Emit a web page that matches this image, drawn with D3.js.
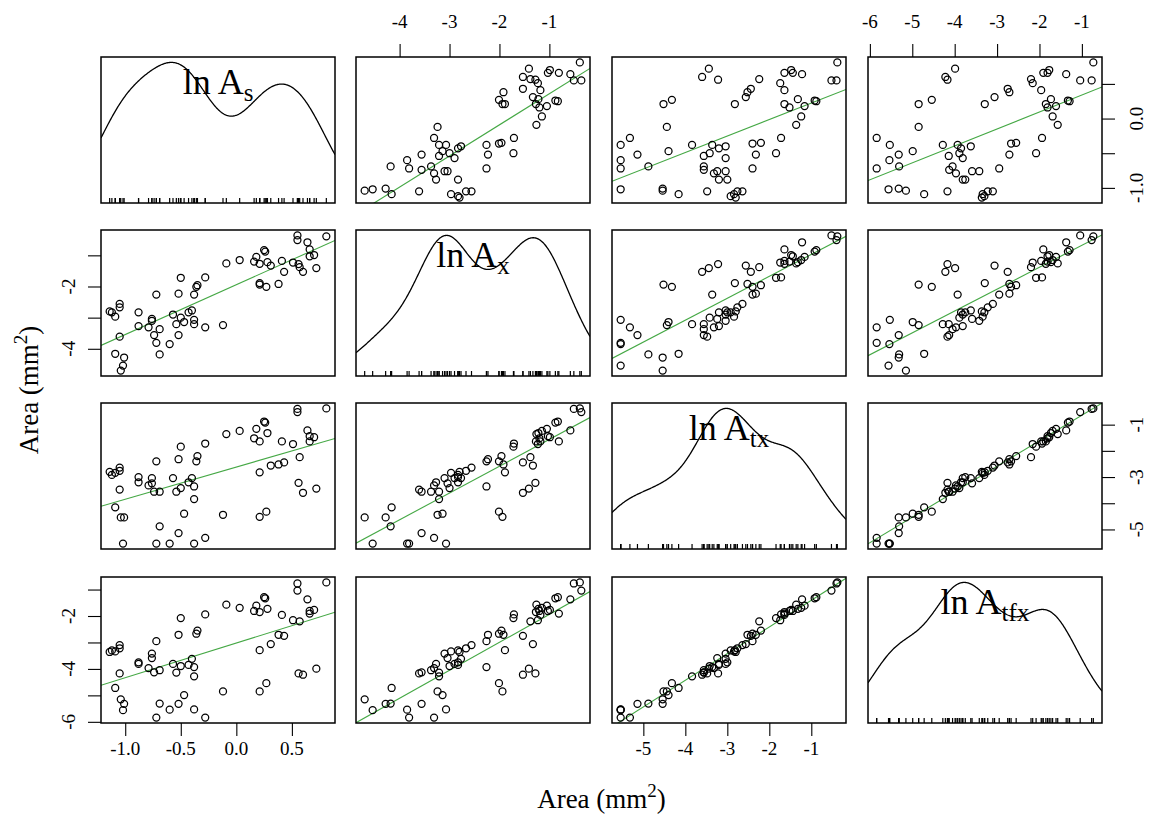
<!DOCTYPE html>
<html>
<head>
<meta charset="utf-8">
<script src="https://cdn.jsdelivr.net/npm/d3@7"></script>
<style>
  body { margin: 0; background: #fff; }
  svg { display: block; }
  text { font-family: "Liberation Serif", "Times New Roman", serif; fill: #000; }
</style>
</head>
<body>
<svg id="chart" width="1151" height="831"></svg>
<script>
// Log areas (ln of mm^2) for the four area measures, one entry per specimen.
const lnAs = [0.81, 0.72, 0.70, 0.66, 0.66, 0.64, 0.60, 0.57, 0.56, 0.55, 0.55, 0.51, 0.43, 0.41, 0.38,
  0.31, 0.28, 0.27, 0.26, 0.25, 0.21, 0.21, 0.21, 0.18, 0.16, 0.03, -0.09, -0.12, -0.28, -0.28,
  -0.38, -0.38, -0.38, -0.36, -0.35, -0.43, -0.40, -0.47, -0.50, -0.52, -0.52, -0.54, -0.50, -0.57, -0.60,
  -0.69, -0.72, -0.72, -0.69, -0.74, -0.76, -0.79, -0.76, -0.88, -0.88, -1.02, -1.01, -1.04, -1.09, -1.05,
  -1.05, -1.05, -1.09, -1.14, -1.12];
const lnAx = [-0.39, -1.41, -0.99, -0.81, -1.03, -0.58, -1.53, -1.38, -1.28, -0.36, -0.51, -1.23, -1.53, -1.18, -1.92,
  -1.33, -1.22, -2.01, -0.88, -0.83, -1.94, -1.89, -1.27, -1.05, -1.20, -1.15, -1.26, -3.24, -3.31, -1.71,
  -3.07, -3.21, -2.26, -2.01, -1.96, -2.83, -2.77, -3.14, -1.72, -2.23, -3.56, -3.21, -3.00, -2.90, -3.85,
  -4.18, -2.26, -3.81, -3.37, -3.56, -3.10, -3.31, -3.04, -3.27, -2.83, -4.54, -4.28, -4.70, -4.16, -3.61,
  -2.67, -2.56, -2.97, -2.80, -2.83];
const lnAtx = [-0.38, -3.44, -1.48, -1.64, -1.44, -1.22, -3.60, -2.24, -3.22, -0.52, -0.40, -1.74, -2.44, -1.64, -2.52,
  -2.56, -1.32, -4.32, -0.92, -0.88, -4.52, -2.82, -1.64, -1.16, -1.52, -1.24, -1.36, -4.44, -5.32, -1.72,
  -5.54, -3.84, -3.36, -2.40, -2.20, -3.20, -3.04, -4.40, -1.84, -2.32, -5.14, -3.56, -3.42, -3.04, -5.54,
  -4.88, -2.40, -5.54, -3.56, -3.56, -3.04, -3.32, -3.24, -3.20, -3.00, -5.54, -4.54, -4.54, -4.16, -3.48,
  -2.76, -2.64, -2.84, -2.80, -2.92];
const lnAtfx = [-0.73, -3.99, -1.77, -1.91, -1.81, -1.37, -4.22, -2.20, -4.17, -1.04, -0.77, -2.16, -2.75, -1.96, -2.71,
  -3.06, -1.73, -4.54, -1.33, -1.29, -4.85, -3.29, -1.85, -1.61, -1.81, -1.69, -1.57, -4.85, -5.84, -1.94,
  -5.53, -4.28, -3.93, -2.67, -2.55, -3.85, -3.62, -4.99, -2.08, -2.71, -5.32, -4.14, -3.89, -3.81, -5.54,
  -5.31, -2.95, -5.84, -4.05, -4.13, -3.42, -3.97, -3.59, -3.81, -3.75, -5.56, -5.32, -5.15, -4.72, -4.17,
  -3.22, -3.10, -3.34, -3.36, -3.30];

// Subscripts of the diagonal labels ("ln A" + subscript)
const labelSubs = ["s", "x", "tx", "tfx"];

// Tick values and their printed labels, per variable
const ticksAs = [-1, -0.5, 0, 0.5];
const tickLabelsAs = ["-1.0", "-0.5", "0.0", "0.5"];
const ticksAx = [-4, -3, -2, -1];
const tickLabelsAx = ["-4", "-3", "-2", "-1"];
const ticksAtx = [-5, -4, -3, -2, -1];
const tickLabelsAtx = ["-5", "-4", "-3", "-2", "-1"];
const ticksAtfx = [-6, -5, -4, -3, -2, -1];
const tickLabelsAtfx = ["-6", "-5", "-4", "-3", "-2", "-1"];

const axisTitle = "Area (mm";
const axisTitleSup = "2";

// ---- layout ----
const colX = [101, 356, 612, 868];
const rowY = [57, 230, 403, 577];
const W = 234, H = 146;
const TICK = 13;

const vars = [lnAs, lnAx, lnAtx, lnAtfx];
const tickVals = [ticksAs, ticksAx, ticksAtx, ticksAtfx];
const tickLabs = [tickLabelsAs, tickLabelsAx, tickLabelsAtx, tickLabelsAtfx];

// Axis range = data range widened by 4% on each side
function paddedDomain(v) {
  const [a, b] = d3.extent(v);
  const p = (b - a) * 0.04;
  return [a - p, b + p];
}
const xScales = vars.map((v, j) => d3.scaleLinear().domain(paddedDomain(v)).range([colX[j], colX[j] + W]));
const yScales = vars.map((v, i) => d3.scaleLinear().domain(paddedDomain(v)).range([rowY[i] + H, rowY[i]]));

const svg = d3.select("#chart");
const defs = svg.append("defs");

// Gaussian kernel density with the nrd0 bandwidth rule
function bwNrd0(v) {
  const s = d3.deviation(v);
  const sorted = v.slice().sort(d3.ascending);
  const iqr = d3.quantileSorted(sorted, 0.75) - d3.quantileSorted(sorted, 0.25);
  const lo = Math.min(s, iqr / 1.34);
  return 0.9 * lo * Math.pow(v.length, -0.2);
}
function kde(v, grid) {
  const h = bwNrd0(v);
  const n = v.length;
  const c = 1 / (n * h * Math.sqrt(2 * Math.PI));
  return grid.map(x => [x, c * d3.sum(v, xi => Math.exp(-0.5 * ((x - xi) / h) ** 2))]);
}

// Least-squares fit y = a + b x
function lsFit(x, y) {
  const mx = d3.mean(x), my = d3.mean(y);
  let sxy = 0, sxx = 0;
  for (let k = 0; k < x.length; k++) {
    sxy += (x[k] - mx) * (y[k] - my);
    sxx += (x[k] - mx) ** 2;
  }
  const b = sxy / sxx;
  return { a: my - b * mx, b };
}

for (let i = 0; i < 4; i++) {
  for (let j = 0; j < 4; j++) {
    const id = `clip-${i}-${j}`;
    defs.append("clipPath").attr("id", id)
      .append("rect").attr("x", colX[j]).attr("y", rowY[i]).attr("width", W).attr("height", H);

    const g = svg.append("g");
    const inner = g.append("g").attr("clip-path", `url(#${id})`);
    const xs = xScales[j];

    if (i === j) {
      // density curve
      const [d0, d1] = xs.domain();
      const grid = d3.range(0, 401).map(k => d0 + (d1 - d0) * k / 400);
      const dens = kde(vars[j], grid);
      const m = d3.max(dens, d => d[1]);
      const yd = d3.scaleLinear().domain([-0.04 * m, 1.04 * m]).range([rowY[i] + H, rowY[i]]);
      inner.append("path")
        .attr("d", d3.line().x(d => xs(d[0])).y(d => yd(d[1]))(dens))
        .attr("fill", "none").attr("stroke", "#000").attr("stroke-width", 1.3);
      // rug
      inner.selectAll("line.rug").data(vars[j]).join("line")
        .attr("x1", d => xs(d)).attr("x2", d => xs(d))
        .attr("y1", rowY[i] + H).attr("y2", rowY[i] + H - 5)
        .attr("stroke", "#000").attr("stroke-width", 1.2);
      // label
      const t = g.append("text")
        .attr("x", colX[j] + W / 2).attr("y", rowY[i] + 37)
        .attr("text-anchor", "middle").style("font-size", "36px");
      t.append("tspan").text("ln A");
      t.append("tspan").attr("dy", 7).style("font-size", "25px").text(labelSubs[j]);
    } else {
      const ys = yScales[i];
      const xv = vars[j], yv = vars[i];
      const pts = xv.map((x, k) => [x, yv[k]]);
      const fit = lsFit(xv, yv);
      const [d0, d1] = xs.domain();
      inner.append("line")
        .attr("x1", xs(d0)).attr("y1", ys(fit.a + fit.b * d0))
        .attr("x2", xs(d1)).attr("y2", ys(fit.a + fit.b * d1))
        .attr("stroke", "#45a845").attr("stroke-width", 1.1);
      inner.selectAll("circle").data(pts).join("circle")
        .attr("cx", d => xs(d[0])).attr("cy", d => ys(d[1])).attr("r", 3.5)
        .attr("fill", "none").attr("stroke", "#000").attr("stroke-width", 1.25);
    }
    g.append("rect")
      .attr("x", colX[j]).attr("y", rowY[i]).attr("width", W).attr("height", H)
      .attr("fill", "none").attr("stroke", "#000").attr("stroke-width", 1.5);
  }
}

// ---- outer axes ----
function drawTicks(axisGen, transform) {
  const g = svg.append("g").attr("transform", transform)
    .call(axisGen.tickSize(TICK).tickSizeOuter(0).tickFormat(""));
  g.select(".domain").remove();
  g.selectAll(".tick line").attr("stroke", "#000").attr("stroke-width", 1.1);
  return g;
}
const bottomY = rowY[3] + H;
const rightX = colX[3] + W;

// bottom axes: columns 1 and 3
[0, 2].forEach(j => {
  const s = xScales[j];
  drawTicks(d3.axisBottom(s).tickValues(tickVals[j]), `translate(0,${bottomY})`);
  svg.append("g").selectAll("text").data(tickVals[j]).join("text")
    .attr("x", d => s(d)).attr("y", 755).attr("text-anchor", "middle")
    .style("font-size", "19px").text((d, k) => tickLabs[j][k]);
});
// top axes: columns 2 and 4
[1, 3].forEach(j => {
  const s = xScales[j];
  drawTicks(d3.axisTop(s).tickValues(tickVals[j]), `translate(0,${rowY[0]})`);
  svg.append("g").selectAll("text").data(tickVals[j]).join("text")
    .attr("x", d => s(d)).attr("y", 28).attr("text-anchor", "middle")
    .style("font-size", "19px").text((d, k) => tickLabs[j][k]);
});
// vertical axes: every other label, starting from the lowest tick
// left axes: rows 2 and 4
[1, 3].forEach(i => {
  const s = yScales[i];
  drawTicks(d3.axisLeft(s).tickValues(tickVals[i]), `translate(${colX[0]},0)`);
  svg.append("g").selectAll("text").data(tickVals[i].filter((d, k) => k % 2 === 0)).join("text")
    .attr("transform", d => `translate(75,${s(d)}) rotate(-90)`)
    .attr("text-anchor", "middle").style("font-size", "19px")
    .text(d => tickLabs[i][tickVals[i].indexOf(d)]);
});
// right axes: rows 1 and 3
[0, 2].forEach(i => {
  const s = yScales[i];
  drawTicks(d3.axisRight(s).tickValues(tickVals[i]), `translate(${rightX},0)`);
  svg.append("g").selectAll("text").data(tickVals[i].filter((d, k) => k % 2 === 0)).join("text")
    .attr("transform", d => `translate(1143,${s(d)}) rotate(-90)`)
    .attr("text-anchor", "middle").style("font-size", "19px")
    .text(d => tickLabs[i][tickVals[i].indexOf(d)]);
});

// ---- axis titles ----
function title(sel) {
  sel.style("font-size", "27px").attr("text-anchor", "middle");
  sel.append("tspan").text(axisTitle);
  sel.append("tspan").attr("dy", -11).style("font-size", "19px").text(axisTitleSup);
  sel.append("tspan").attr("dy", 11).text(")");
}
svg.append("text").attr("x", (colX[0] + rightX) / 2).attr("y", 808).call(title);
svg.append("text").attr("transform", `translate(38,${(rowY[0] + bottomY) / 2}) rotate(-90)`).call(title);
</script>
</body>
</html>
